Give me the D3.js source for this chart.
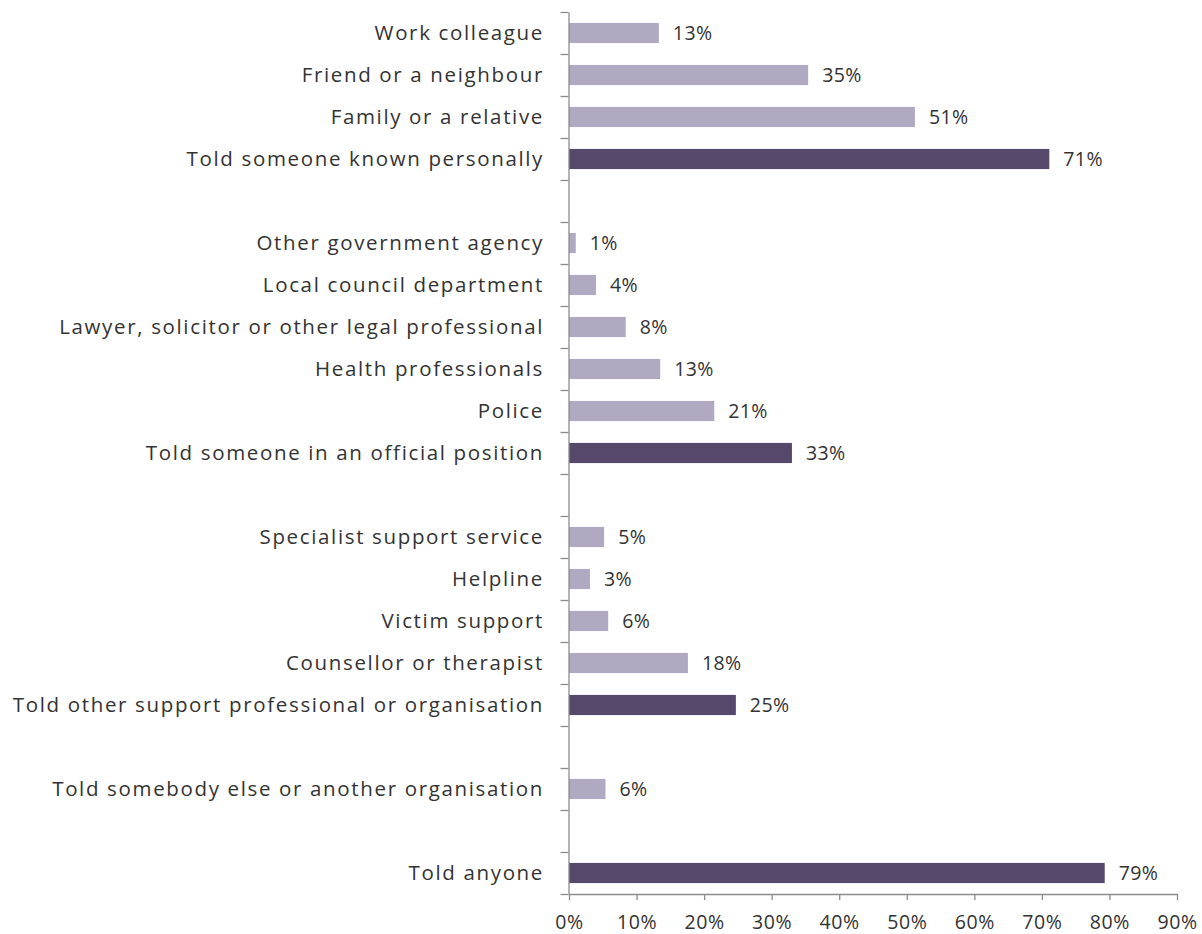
<!DOCTYPE html>
<html><head><meta charset="utf-8">
<script src="https://cdn.jsdelivr.net/npm/d3@7"></script>
<style>
body{margin:0;background:#fff;}
svg{display:block;font-family:"Open Sans",sans-serif;}
</style></head>
<body><svg id="c" width="1202" height="934"></svg>
<script>
const categories = [
  "Work colleague","Friend or a neighbour","Family or a relative","Told someone known personally",
  "",
  "Other government agency","Local council department","Lawyer, solicitor or other legal professional","Health professionals","Police","Told someone in an official position",
  "",
  "Specialist support service","Helpline","Victim support","Counsellor or therapist","Told other support professional or organisation",
  "",
  "Told somebody else or another organisation",
  "",
  "Told anyone"
];
const values = [13.3,35.4,51.2,71.1, null, 1.0,4.0,8.4,13.5,21.5,33.0, null, 5.2,3.1,5.8,17.6,24.7, null, 5.4, null, 79.3];
const valueLabels = ["13%","35%","51%","71%","", "1%","4%","8%","13%","21%","33%","", "5%","3%","6%","18%","25%","", "6%","", "79%"];
const isTotal = [0,0,0,1,0, 0,0,0,0,0,1,0, 0,0,0,0,1,0, 0,0,1];
const xTicks = [0,10,20,30,40,50,60,70,80,90];
const xTickLabels = ["0%","10%","20%","30%","40%","50%","60%","70%","80%","90%"];

const svg = d3.select("#c");
const x = d3.scaleLinear().domain([0,90]).range([569,1177]);
const y = d3.scaleBand().domain(d3.range(categories.length)).range([12,894]).paddingInner(0.52).paddingOuter(0.26);
const yb = d3.scaleLinear().domain([0,categories.length]).range([12,894]);

const light="#b1a8c2", dark="#55486a", txt="#333333", axisCol="#8c8c8c";

// bars
const idx = d3.range(categories.length).filter(i=>values[i]!==null);
svg.append("g").selectAll("rect").data(idx).join("rect")
  .attr("x", x(0)).attr("y", i=>y(i))
  .attr("width", i=>x(values[i])-x(0)).attr("height", y.bandwidth())
  .attr("fill", i=>isTotal[i]?dark:light);

// value labels
svg.append("g").selectAll("text").data(idx).join("text")
  .attr("x", i=>x(values[i])+14).attr("y", i=>y(i)+y.bandwidth()/2)
  .attr("dy","0.36em").attr("font-size",19.5).attr("letter-spacing",0.4).attr("fill",txt)
  .text(i=>valueLabels[i]);

// category labels
svg.append("g").selectAll("text").data(idx).join("text")
  .attr("x", 544).attr("y", i=>y(i)+y.bandwidth()/2)
  .attr("dy","0.33em").attr("text-anchor","end").attr("font-size",20.5).attr("letter-spacing",1.65).attr("fill",txt)
  .text(i=>categories[i]);

// y axis with boundary ticks
const ya = svg.append("g").attr("transform",`translate(${x(0)-0.5},0)`)
  .call(d3.axisLeft(yb).tickValues(d3.range(categories.length+1)).tickSize(8).tickSizeOuter(0).tickFormat(""));
ya.selectAll("path,line").attr("stroke",axisCol).attr("stroke-width",1.3);

// x axis
const xa = svg.append("g").attr("transform",`translate(0,${yb(categories.length)})`)
  .call(d3.axisBottom(x).tickValues(xTicks).tickSize(6).tickSizeOuter(0).tickFormat((d,i)=>xTickLabels[i]));
xa.selectAll("path,line").attr("stroke",axisCol).attr("stroke-width",1.3);
xa.selectAll("text").attr("font-size",19.5).attr("letter-spacing",0.6).attr("fill",txt)
  .attr("font-family","'Open Sans',sans-serif").attr("y",35).attr("dy",0);
</script></body></html>
